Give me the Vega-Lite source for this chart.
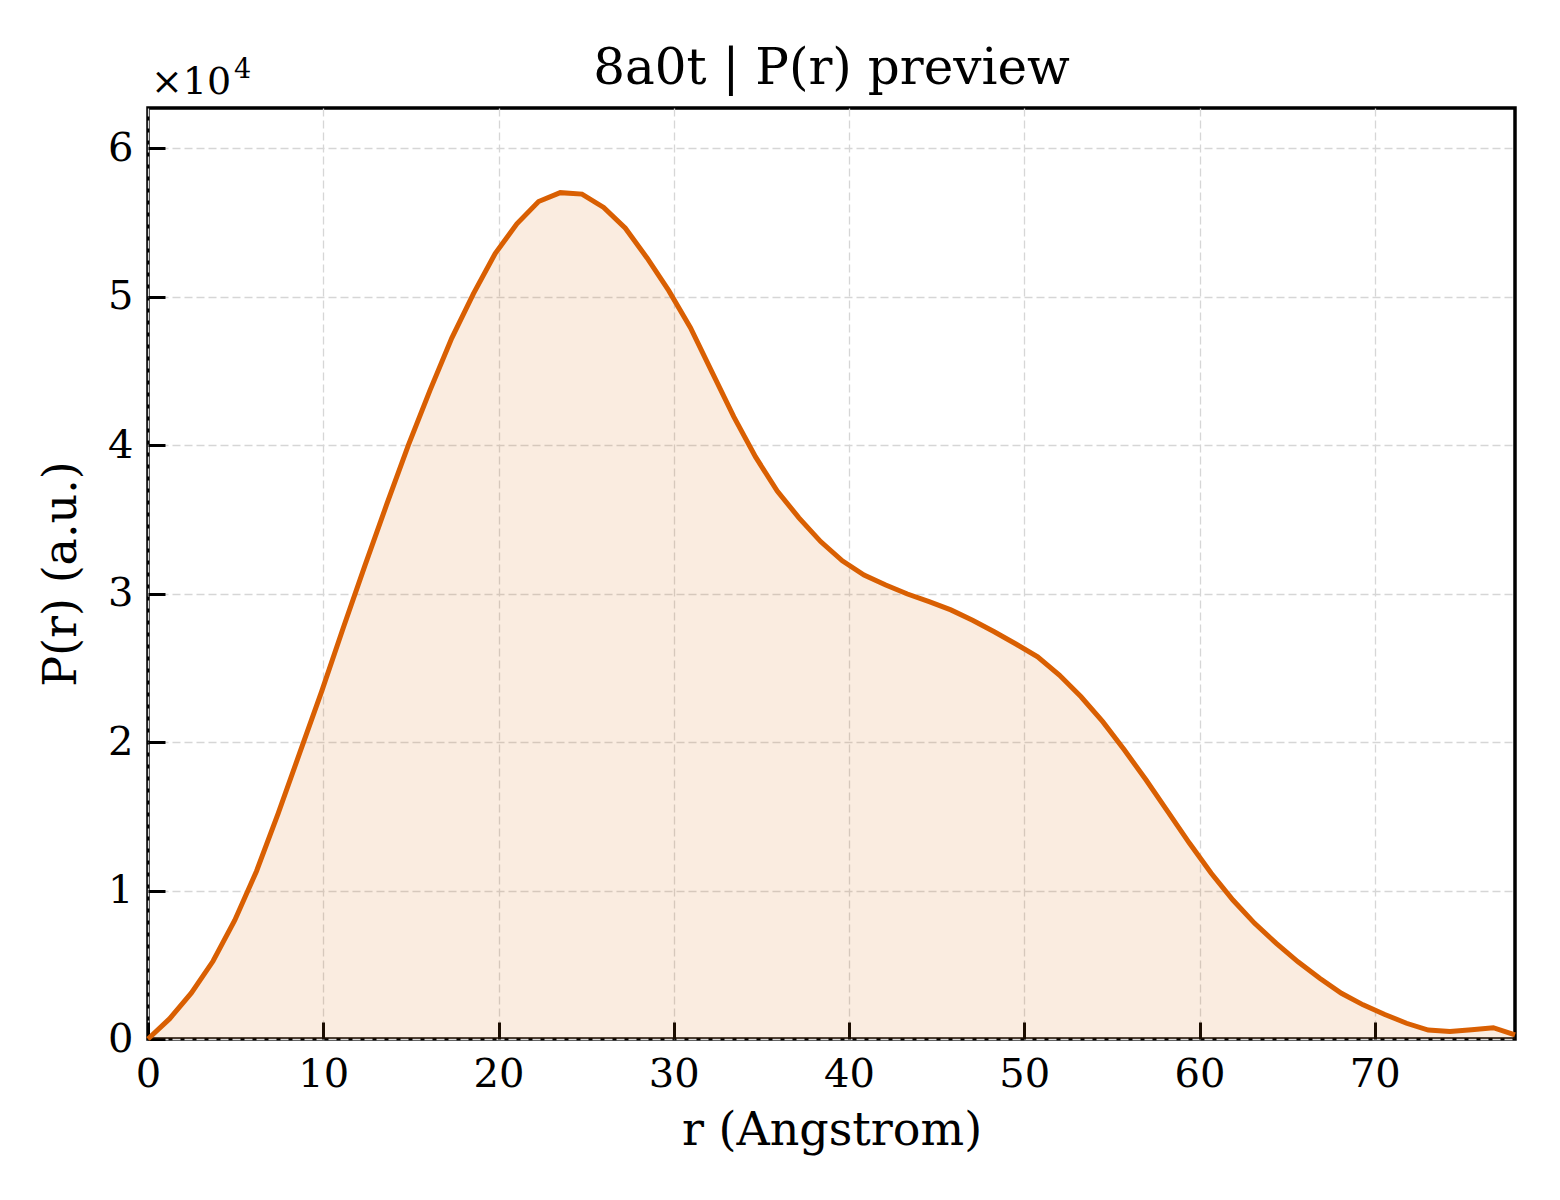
{
  "$schema": "https://vega.github.io/schema/vega-lite/v6.json",
  "width": 1367,
  "height": 931,
  "autosize": {"type": "none"},
  "padding": {"left": 148, "top": 108, "right": 45, "bottom": 161},
  "background": "white",
  "title": {
    "text": "8a0t | P(r) preview",
    "font": "DejaVu Serif",
    "fontSize": 50,
    "fontWeight": "normal",
    "color": "black",
    "offset": -38
  },
  "data": {
    "values": [
      {"r": 0.000, "p": 0},
      {"r": 1.238, "p": 1370},
      {"r": 2.476, "p": 3100},
      {"r": 3.714, "p": 5250},
      {"r": 4.952, "p": 8000},
      {"r": 6.190, "p": 11300},
      {"r": 7.429, "p": 15200},
      {"r": 8.667, "p": 19300},
      {"r": 9.905, "p": 23400},
      {"r": 11.143, "p": 27700},
      {"r": 12.381, "p": 31900},
      {"r": 13.619, "p": 36000},
      {"r": 14.857, "p": 40000},
      {"r": 16.095, "p": 43700},
      {"r": 17.333, "p": 47200},
      {"r": 18.571, "p": 50200},
      {"r": 19.810, "p": 52900},
      {"r": 21.048, "p": 54900},
      {"r": 22.286, "p": 56400},
      {"r": 23.524, "p": 57000},
      {"r": 24.762, "p": 56900},
      {"r": 26.000, "p": 56000},
      {"r": 27.238, "p": 54600},
      {"r": 28.476, "p": 52600},
      {"r": 29.714, "p": 50400},
      {"r": 30.952, "p": 47900},
      {"r": 32.190, "p": 44900},
      {"r": 33.429, "p": 41900},
      {"r": 34.667, "p": 39200},
      {"r": 35.905, "p": 36900},
      {"r": 37.143, "p": 35100},
      {"r": 38.381, "p": 33500},
      {"r": 39.619, "p": 32200},
      {"r": 40.857, "p": 31250},
      {"r": 42.095, "p": 30570},
      {"r": 43.333, "p": 29970},
      {"r": 44.571, "p": 29450},
      {"r": 45.810, "p": 28900},
      {"r": 47.048, "p": 28200},
      {"r": 48.286, "p": 27430},
      {"r": 49.524, "p": 26600},
      {"r": 50.762, "p": 25740},
      {"r": 52.000, "p": 24510},
      {"r": 53.238, "p": 23050},
      {"r": 54.476, "p": 21370},
      {"r": 55.714, "p": 19460},
      {"r": 56.952, "p": 17440},
      {"r": 58.190, "p": 15310},
      {"r": 59.429, "p": 13180},
      {"r": 60.667, "p": 11160},
      {"r": 61.905, "p": 9360},
      {"r": 63.143, "p": 7790},
      {"r": 64.381, "p": 6440},
      {"r": 65.619, "p": 5200},
      {"r": 66.857, "p": 4090},
      {"r": 68.095, "p": 3080},
      {"r": 69.333, "p": 2300},
      {"r": 70.571, "p": 1650},
      {"r": 71.810, "p": 1060},
      {"r": 73.048, "p": 600},
      {"r": 74.286, "p": 500},
      {"r": 75.524, "p": 630},
      {"r": 76.762, "p": 760},
      {"r": 78.000, "p": 270}
    ]
  },
  "encoding": {
    "x": {
      "field": "r",
      "type": "quantitative",
      "scale": {"domain": [0, 78], "nice": false, "zero": false},
      "axis": {
        "title": "r (Angstrom)",
        "values": [0, 10, 20, 30, 40, 50, 60, 70],
        "format": "d"
      }
    },
    "y": {
      "field": "p",
      "type": "quantitative",
      "scale": {"domain": [0, 62700], "nice": false},
      "axis": {
        "title": "P(r) (a.u.)",
        "values": [0, 10000, 20000, 30000, 40000, 50000, 60000],
        "labelExpr": "datum.value / 10000"
      }
    }
  },
  "layer": [
    {
      "mark": {"type": "area", "color": "#d95f02", "opacity": 0.12}
    },
    {
      "mark": {"type": "line", "color": "#d95f02", "strokeWidth": 5}
    },
    {
      "data": {"values": [{"r": 0, "p": 62700, "label": "×10"}]},
      "mark": {
        "type": "text",
        "align": "left",
        "baseline": "alphabetic",
        "dx": 3,
        "dy": -14,
        "font": "DejaVu Serif",
        "fontSize": 38,
        "color": "black"
      },
      "encoding": {
        "text": {"field": "label"}
      }
    },
    {
      "data": {"values": [{"r": 0, "p": 62700, "label": "4"}]},
      "mark": {
        "type": "text",
        "align": "left",
        "baseline": "alphabetic",
        "dx": 86,
        "dy": -30,
        "font": "DejaVu Serif",
        "fontSize": 27,
        "color": "black"
      },
      "encoding": {
        "text": {"field": "label"}
      }
    }
  ],
  "config": {
    "font": "DejaVu Serif",
    "view": {"stroke": "black", "strokeWidth": 3.5},
    "axis": {
      "labelFont": "DejaVu Serif",
      "titleFont": "DejaVu Serif",
      "labelFontSize": 40,
      "titleFontSize": 46,
      "titleFontWeight": "normal",
      "labelColor": "black",
      "titleColor": "black",
      "labelFlush": false,
      "domain": false,
      "grid": true,
      "gridColor": "#d6d6d6",
      "gridDash": [8, 4],
      "gridWidth": 1.3,
      "ticks": true,
      "tickColor": "black",
      "tickWidth": 3,
      "tickSize": -17,
      "labelPadding": 32
    },
    "axisX": {"titlePadding": 14},
    "axisY": {"titlePadding": 22}
  }
}
